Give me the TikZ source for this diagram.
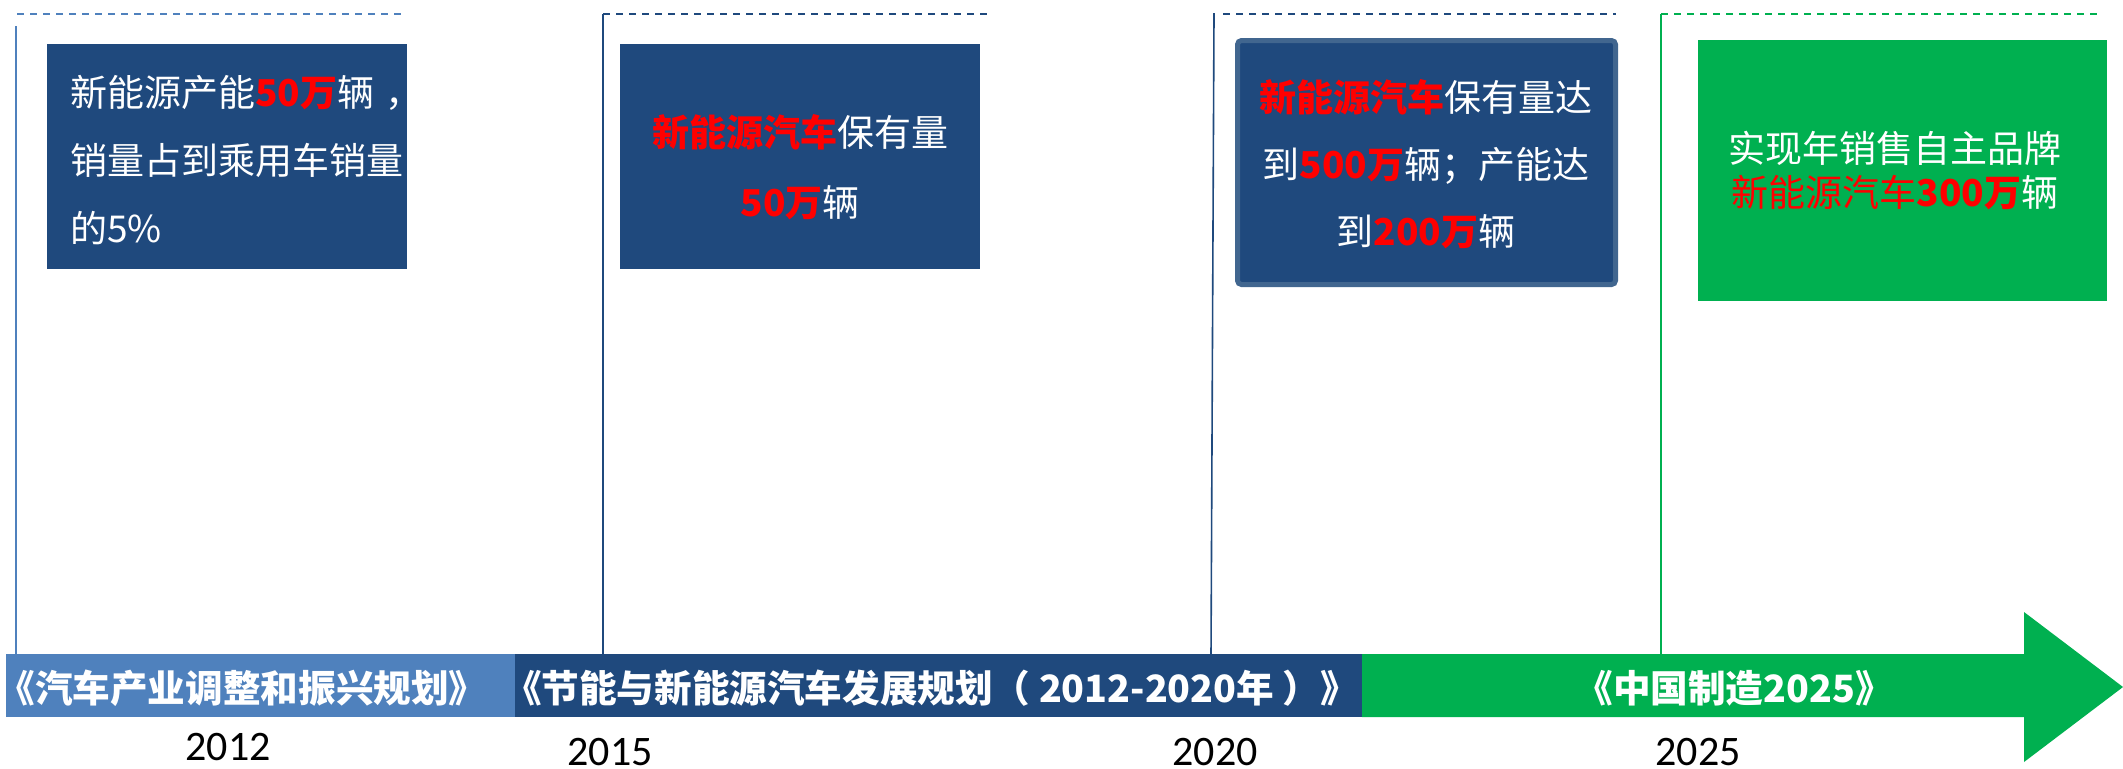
\documentclass[tikz,border=0pt]{standalone}
\usepackage{fontspec}
\setmainfont{Noto Sans CJK SC}
\newfontfamily\cjk{Noto Sans CJK SC}
\newfontfamily\yearfont{Carlito}
\definecolor{navy}{HTML}{1F497D}
\definecolor{lightblue}{HTML}{4F81BD}
\definecolor{grn}{HTML}{00B050}
\definecolor{hlred}{HTML}{FF0000}
\definecolor{bxborder}{HTML}{41668F}
\newcommand\redb[1]{\textcolor{hlred}{\bfseries #1}}
\newcommand\redr[1]{\textcolor{hlred}{#1}}
\begin{document}
\begin{tikzpicture}[x=0.5pt,y=-0.5pt,
  box/.style={rectangle, inner sep=0pt, fill=navy},
  boxtext/.style={inner sep=0pt, text=white},
  vline/.style={line width=0.8pt},
  dline/.style={line width=1pt, dash pattern=on 3.5pt off 3pt},
  bartext/.style={inner sep=0pt, text=white, font=\cjk\bfseries\fontsize{18.8}{22}\selectfont},
  yeartext/.style={inner sep=0pt, text=black, anchor=base, font=\yearfont\fontsize{21}{25}\selectfont},
  seg/.style={rectangle, inner sep=0pt, minimum height=31.5pt}]
\useasboundingbox (0,0) rectangle (2123,768);

% bar
\node[seg, fill=lightblue, minimum width=254.5pt] (seg1) at (260.5,685.5) {};
\node[seg, fill=navy, minimum width=423.5pt] (seg2) at (938.5,685.5) {};
\fill[grn] (1362,654) -- (2024,654) -- (2024,612) -- (2123,687) -- (2024,762) -- (2024,717) -- (1362,717) -- cycle;
\node[bartext] (p1) at (242,688) {《汽车产业调整和振兴规划》};
\node[bartext] (p2) at (931,688) {《节能与新能源汽车发展规划（ 2012-2020年 ）》};
\node[bartext] (p3) at (1734,688) {《中国制造2025》};

% years
\node[yeartext] (y1) at (228,760) {2012};
\node[yeartext] (y2) at (610,765) {2015};
\node[yeartext] (y3) at (1215,765) {2020};
\node[yeartext] (y4) at (1698,765) {2025};

% markers
\coordinate (v1) at (16,26);
\coordinate (d1a) at (17,14);
\coordinate (d1b) at (403,14);
\draw[vline, lightblue] (v1) -- (v1 |- seg1.north);
\draw[dline, lightblue] (d1a) -- (d1b);

\coordinate (v2) at (603,14);
\coordinate (d2b) at (989,14);
\draw[vline, navy] (v2 |- seg2.north) -- (v2);
\draw[dline, navy] (v2) -- (d2b);

\coordinate (v3) at (1214,13);
\coordinate (v3b) at (1211,654);
\coordinate (d3a) at (1223,14);
\coordinate (d3b) at (1616,14);
\draw[vline, navy] (v3) -- (v3b);
\draw[dline, navy] (d3a) -- (d3b);

\coordinate (v4) at (1661,14);
\coordinate (v4b) at (1661,654);
\coordinate (d4b) at (2100,14);
\draw[vline, grn] (v4b) -- (v4);
\draw[dline, grn] (v4) -- (d4b);

% boxes
\node[box, minimum width=180pt, minimum height=112.5pt] (b1) at (227,156.5) {};
\node[boxtext, align=left, anchor=west, font=\cjk\fontsize{18.5}{34}\selectfont] (t1) at (70,160)
  {新能源产能\redb{50万}辆\hspace{0.3em}，\\销量占到乘用车销量\\的5\%};

\node[box, minimum width=180pt, minimum height=112.5pt] (b2) at (800,156.5) {};
\node[boxtext, align=center, font=\cjk\fontsize{18.5}{35}\selectfont] (t2) at (800,167)
  {\redb{新能源汽车}保有量\\\redb{50万}辆};

\node[box, draw=bxborder, line width=2.5pt, rounded corners=2pt, minimum width=189pt, minimum height=122pt] (b3) at (1426.5,162.5) {};
\node[boxtext, align=center, font=\cjk\fontsize{18.5}{33.5}\selectfont] (t3) at (1426,164)
  {\redb{新能源汽车}保有量达\\到\redb{500万}辆；产能达\\到\redb{200万}辆};

\node[box, fill=grn, minimum width=204.5pt, minimum height=130.5pt] (b4) at (1902.5,170.5) {};
\node[boxtext, align=center, font=\cjk\fontsize{18.5}{22}\selectfont] (t4) at (1895,171)
  {实现年销售自主品牌\\\redr{新能源汽车}\redb{300万}辆};
\end{tikzpicture}
\end{document}
